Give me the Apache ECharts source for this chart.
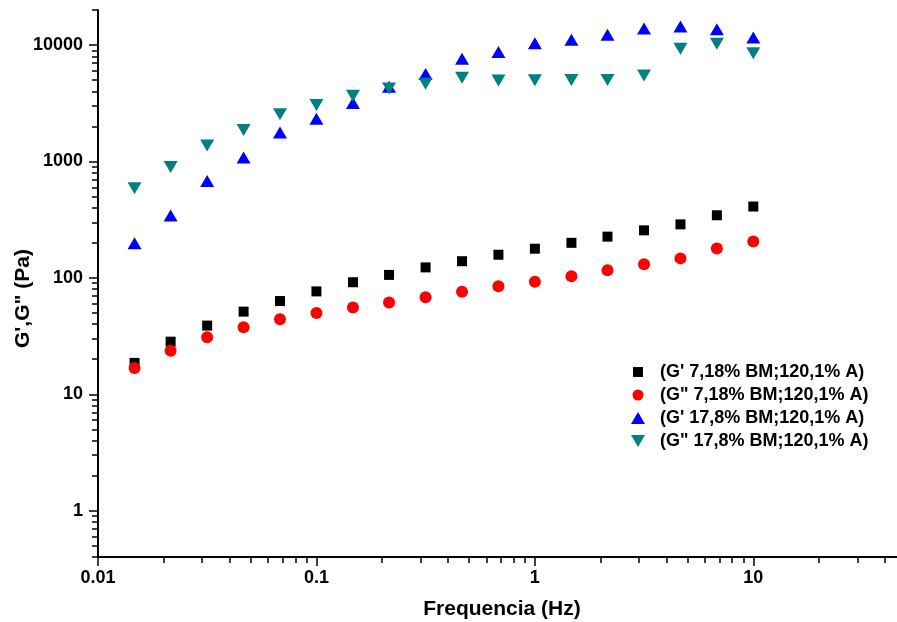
<!DOCTYPE html>
<html>
<head>
<meta charset="utf-8">
<script src="https://cdn.jsdelivr.net/npm/echarts@6/dist/echarts.min.js"></script>
<style>
html,body{margin:0;padding:0;background:#fff;}
#chart{width:897px;height:622px;}
</style>
</head>
<body>
<div id="chart"></div>
<script>
// Frequencies (Hz)
const freq = [0.0147, 0.0215, 0.0316, 0.0464, 0.0681, 0.1, 0.147, 0.215, 0.316, 0.464, 0.681, 1, 1.47, 2.15, 3.16, 4.64, 6.81, 10];
// Series values (Pa)
const gp718  = [18.6, 28.3, 38.9, 51.3, 63.2, 76.5, 91.7, 106, 123, 139, 158, 178, 200, 226, 256, 288, 345, 410];
const gpp718 = [16.8, 23.7, 30.9, 37.6, 44.1, 50.0, 55.6, 61.5, 68, 75.9, 84.7, 92.4, 103, 116, 131, 147, 179, 205];
const gp178  = [198, 344, 680, 1080, 1775, 2330, 3185, 4390, 5630, 7640, 8700, 10340, 11090, 12240, 13860, 14430, 13700, 11600];
const gpp178 = [589, 897, 1373, 1866, 2545, 3060, 3660, 4225, 4660, 5225, 4970, 4990, 5000, 5000, 5470, 9275, 10240, 8520];
const seriesNames = ["(G' 7,18% BM;120,1% A)", '(G" 7,18% BM;120,1% A)', "(G' 17,8% BM;120,1% A)", '(G" 17,8% BM;120,1% A)'];
// Tick values
const xMajor = [0.01, 0.1, 1, 10];
const xMinor = [0.02,0.03,0.04,0.05,0.06,0.07,0.08,0.09,0.2,0.3,0.4,0.5,0.6,0.7,0.8,0.9,2,3,4,5,6,7,8,9,20,30,40];
const yMajor = [1, 10, 100, 1000, 10000];
const yMinor = [0.4,0.5,0.6,0.7,0.8,0.9,2,3,4,5,6,7,8,9,20,30,40,50,60,70,80,90,200,300,400,500,600,700,800,900,2000,3000,4000,5000,6000,7000,8000,9000,20000];

const FONT = 'Liberation Sans';
const fmt = v => String(+(+v).toPrecision(6));
const pairs = arr => freq.map((f, i) => [f, arr[i]]);

const ICON_SQUARE = 'path://M0,0M14,12M2,1H12V11H2Z';
const ICON_CIRCLE = 'path://M0,0M14,12M1.5,6A5.5,5.5,0,1,1,12.5,6A5.5,5.5,0,1,1,1.5,6Z';
const ICON_UP = 'path://M7,0L14,12L0,12Z';
const ICON_DOWN = 'path://M0,0L14,0L7,12Z';

const chart = echarts.init(document.getElementById('chart'), null, {renderer: 'canvas'});
const axisCommon = {
  type: 'log', logBase: 10,
  splitLine: {show: false},
  minorTick: {show: false}
};
chart.setOption({
  animation: false,
  backgroundColor: '#fff',
  grid: {left: 98, top: 10, bottom: 65, right: -9, containLabel: false, outerBoundsMode: 'none'},
  legend: {
    orient: 'vertical', left: 631, top: 363, padding: 0,
    itemWidth: 34, itemHeight: 12, itemGap: 5, symbolKeepAspect: true,
    textStyle: {fontFamily: FONT, fontWeight: 'bold', fontSize: 18, color: '#000', lineHeight: 18},
    data: [
      {name: seriesNames[0], icon: ICON_SQUARE},
      {name: seriesNames[1], icon: ICON_CIRCLE},
      {name: seriesNames[2], icon: ICON_UP},
      {name: seriesNames[3], icon: ICON_DOWN}
    ]
  },
  xAxis: [
    Object.assign({}, axisCommon, {
      min: 0.01, max: 50, position: 'bottom',
      name: 'Frequencia (Hz)', nameLocation: 'middle', nameGap: 42, nameMoveOverlap: false,
      nameTextStyle: {fontFamily: FONT, fontWeight: 'bold', fontSize: 21, color: '#000'},
      axisLine: {show: true, lineStyle: {color: '#000', width: 2}},
      axisTick: {show: true, inside: false, length: 9, lineStyle: {color: '#000', width: 1.5}, customValues: xMajor},
      axisLabel: {show: true, margin: 12, fontFamily: FONT, fontWeight: 'bold', fontSize: 18, color: '#000', customValues: xMajor, formatter: fmt}
    }),
    Object.assign({}, axisCommon, {
      min: 0.01, max: 50, position: 'bottom',
      axisLine: {show: false},
      axisTick: {show: true, inside: false, length: 6, lineStyle: {color: '#000', width: 1.5}, customValues: xMinor},
      axisLabel: {show: false}
    })
  ],
  yAxis: [
    Object.assign({}, axisCommon, {
      min: 0.4, max: 20000, position: 'left',
      name: 'G\',G" (Pa)', nameLocation: 'middle', nameGap: 64, nameRotate: 90, nameMoveOverlap: false,
      nameTextStyle: {fontFamily: FONT, fontWeight: 'bold', fontSize: 21, color: '#000', padding: [0, 30, 0, 0]},
      axisLine: {show: true, lineStyle: {color: '#000', width: 2}},
      axisTick: {show: true, inside: false, length: 9, lineStyle: {color: '#000', width: 1.5}, customValues: yMajor},
      axisLabel: {show: true, margin: 15, fontFamily: FONT, fontWeight: 'bold', fontSize: 18, color: '#000', customValues: yMajor, formatter: fmt}
    }),
    Object.assign({}, axisCommon, {
      min: 0.4, max: 20000, position: 'left',
      axisLine: {show: false},
      axisTick: {show: true, inside: false, length: 6, lineStyle: {color: '#000', width: 1.5}, customValues: yMinor},
      axisLabel: {show: false}
    })
  ],
  series: [
    {name: seriesNames[0], type: 'scatter', symbol: 'rect', symbolSize: 10, itemStyle: {color: '#000000', opacity: 1}, data: pairs(gp718)},
    {name: seriesNames[1], type: 'scatter', symbol: 'circle', symbolSize: 12, itemStyle: {color: '#ff0000', opacity: 1}, data: pairs(gpp718)},
    {name: seriesNames[2], type: 'scatter', symbol: 'triangle', symbolSize: [14, 12], itemStyle: {color: '#0000ff', opacity: 1}, data: pairs(gp178)},
    {name: seriesNames[3], type: 'scatter', symbol: 'triangle', symbolRotate: 180, symbolSize: [14, 12], itemStyle: {color: '#008080', opacity: 1}, data: pairs(gpp178)}
  ]
});
</script>
</body>
</html>
